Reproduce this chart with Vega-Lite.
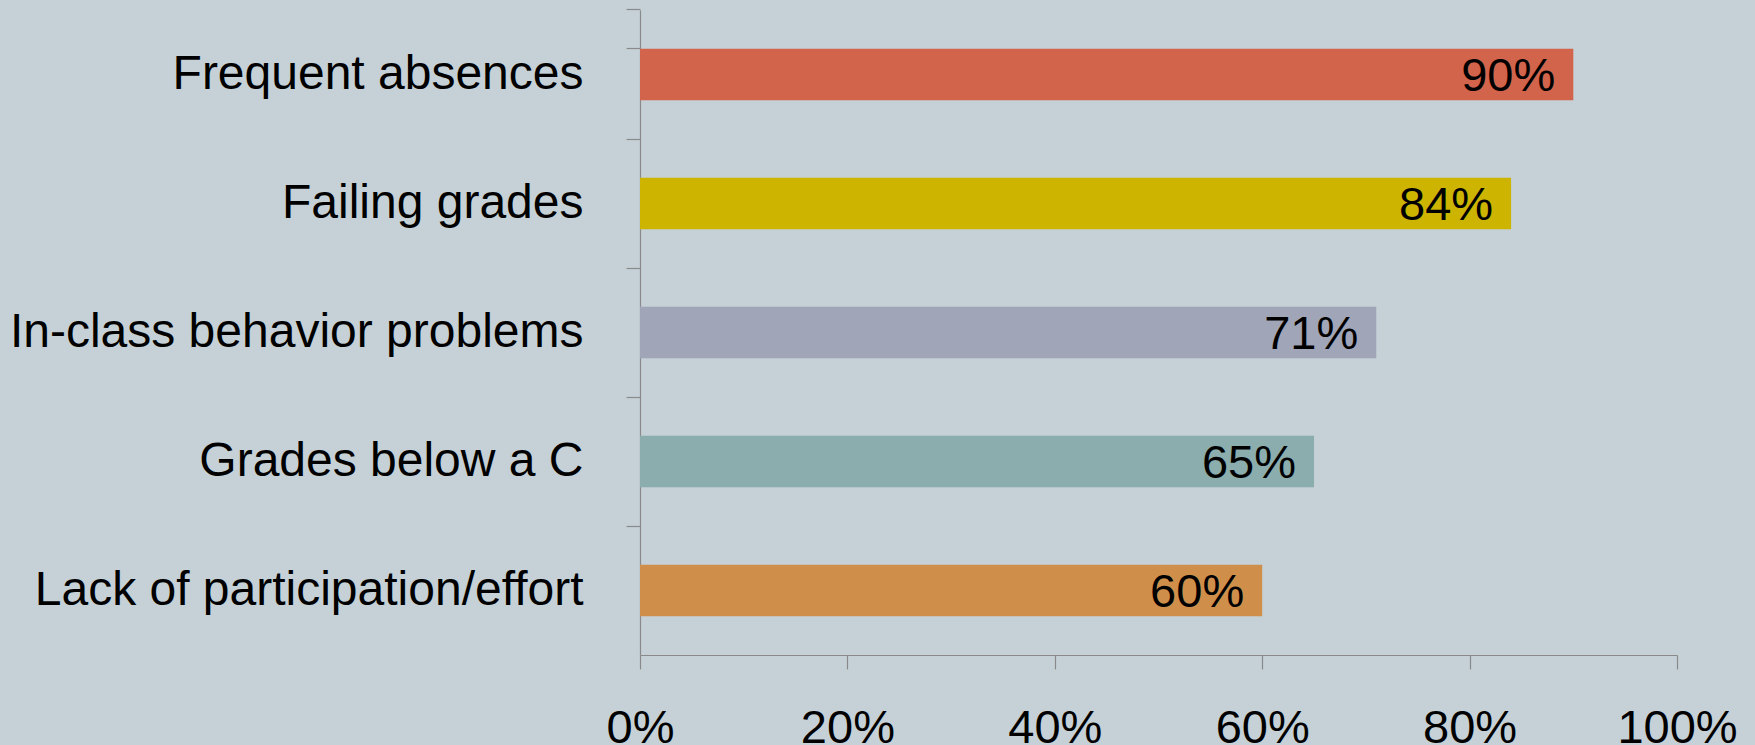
{
  "$schema": "https://vega.github.io/schema/vega-lite/v6.json",
  "width": 1037,
  "height": 645,
  "autosize": {"type": "none"},
  "padding": {"left": 640, "top": 10, "right": 78, "bottom": 90},
  "background": "#C5D1D7",
  "config": {
    "view": {"stroke": null},
    "font": "Liberation Sans"
  },
  "data": {
    "values": [
      {"category": "Frequent absences", "value": 0.90, "color": "#D2644B"},
      {"category": "Failing grades", "value": 0.84, "color": "#CCB400"},
      {"category": "In-class behavior problems", "value": 0.71, "color": "#A0A5B8"},
      {"category": "Grades below a C", "value": 0.65, "color": "#8BADAD"},
      {"category": "Lack of participation/effort", "value": 0.60, "color": "#CF8F4B"}
    ]
  },
  "encoding": {
    "y": {
      "field": "category",
      "type": "nominal",
      "sort": null,
      "scale": {"paddingInner": 0.6, "paddingOuter": 0.3},
      "axis": {
        "title": null,
        "bandPosition": -0.75,
        "tickExtra": true,
        "domainColor": "#8A8A8A",
        "tickColor": "#8A8A8A",
        "domainWidth": 1.2,
        "tickWidth": 1.2,
        "tickSize": 14,
        "labelPadding": 43,
        "labelFontSize": 48,
        "labelColor": "#000000",
        "labelFont": "Liberation Sans",
        "labelLimit": 700
      }
    },
    "x": {
      "field": "value",
      "type": "quantitative",
      "scale": {"domain": [0, 1], "nice": false},
      "axis": {
        "title": null,
        "values": [0, 0.2, 0.4, 0.6, 0.8, 1],
        "format": ".0%",
        "grid": false,
        "domainColor": "#8A8A8A",
        "tickColor": "#8A8A8A",
        "domainWidth": 1.2,
        "tickWidth": 1.2,
        "tickSize": 14,
        "labelPadding": 36,
        "labelFontSize": 47,
        "labelColor": "#000000",
        "labelFont": "Liberation Sans",
        "labelFlush": false,
        "labelOverlap": false
      }
    }
  },
  "layer": [
    {
      "mark": {"type": "bar"},
      "encoding": {
        "color": {"field": "color", "type": "nominal", "scale": null}
      }
    },
    {
      "mark": {"type": "text", "align": "right", "baseline": "middle", "dx": -18, "dy": 2, "fontSize": 47, "color": "#000000", "font": "Liberation Sans"},
      "encoding": {
        "text": {"field": "value", "type": "quantitative", "format": ".0%"}
      }
    }
  ]
}
